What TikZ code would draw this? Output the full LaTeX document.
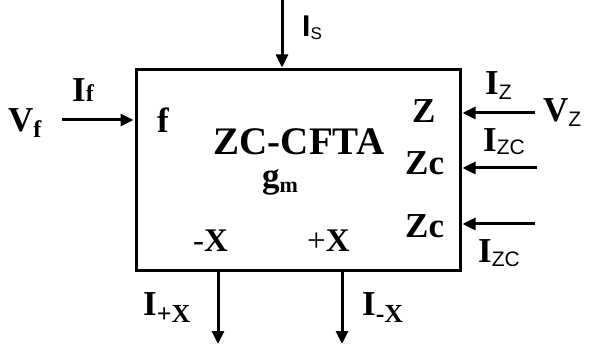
\documentclass[tikz,border=0pt]{standalone}
\usepackage{fontspec}
\setmainfont{Liberation Serif}
\newfontfamily\sansf{Liberation Sans}
\usetikzlibrary{arrows.meta}
\newcommand\fs[1]{\fontsize{#1}{#1}\selectfont}
\newcommand\subs[3]{\raisebox{-#1pt}{\fs{#2}#3}}
\begin{document}
\begin{tikzpicture}[x=1pt,y=-1pt,
 lbl/.style={anchor=base west, inner sep=0, font=\fs{35}\bfseries},
 arr/.style={line width=3pt, -{Triangle[length=13pt,width=12pt]}, shorten >=1pt}]
\useasboundingbox (0,0) rectangle (594,347);
\node[draw, line width=3pt, minimum width=324pt, minimum height=201pt, inner sep=0] (box) at (298,170.5) {};
% connectors
\coordinate (sIn) at (282,0);
\draw[arr] (sIn) -- (sIn |- box.north);
\coordinate (fIn) at (62,120);
\draw[arr] (fIn) -- (fIn -| box.west);
\coordinate (zIn) at (535,113);
\draw[arr] (zIn) -- (zIn -| box.east);
\coordinate (zcaIn) at (537,168);
\draw[arr] (zcaIn) -- (zcaIn -| box.east);
\coordinate (zcbIn) at (535,224);
\draw[arr] (zcbIn) -- (zcbIn -| box.east);
\coordinate (pxOut) at (218,344);
\draw[arr, shorten >=0pt] (pxOut |- box.south) -- (pxOut);
\coordinate (mxOut) at (342,344);
\draw[arr, shorten >=0pt] (mxOut |- box.south) -- (mxOut);
% labels
\node[lbl] (Vf) at (8,132) {V\subs{6}{24}{f}};
\node[lbl] (If) at (72,102) {I\subs{0}{24}{f}};
\node[lbl] (f) at (157,133) {f};
\node[lbl, anchor=base, font=\fs{39}\bfseries, text depth=0pt] (name) at (299,155) {ZC-CFTA};
\node[lbl, text height=16pt] (gm) at (262,188) {g\subs{5}{22}{m}};
\node[lbl] (Z) at (412,123) {Z};
\node[lbl] (Zca) at (405,175) {Zc};
\node[lbl] (Zcb) at (405,238) {Zc};
\node[lbl, font=\fs{33}] (mX) at (193,252) {-\textbf{X}};
\node[lbl, font=\fs{33}] (pX) at (307,252) {+\textbf{X}};
\node[lbl] (IpX) at (143,315) {I\subs{7}{26}{+X}};
\node[lbl] (ImX) at (362,315) {I\subs{7}{26}{-X}};
\node[lbl] (IZ) at (485,95) {I\subs{5}{21}{\sansf\mdseries Z}};
\node[lbl] (VZ) at (543,122) {V\subs{5}{21}{\sansf\mdseries Z}};
\node[lbl] (IZCa) at (483,152) {I\subs{3}{21}{\sansf\mdseries ZC}};
\node[lbl] (IZCb) at (478,263) {I\subs{4}{21}{\sansf\mdseries ZC}};
\node[lbl, font=\fs{30}\sansf\bfseries] (IS) at (302,37) {I\subs{3}{17}{\mdseries S}};
\end{tikzpicture}
\end{document}
